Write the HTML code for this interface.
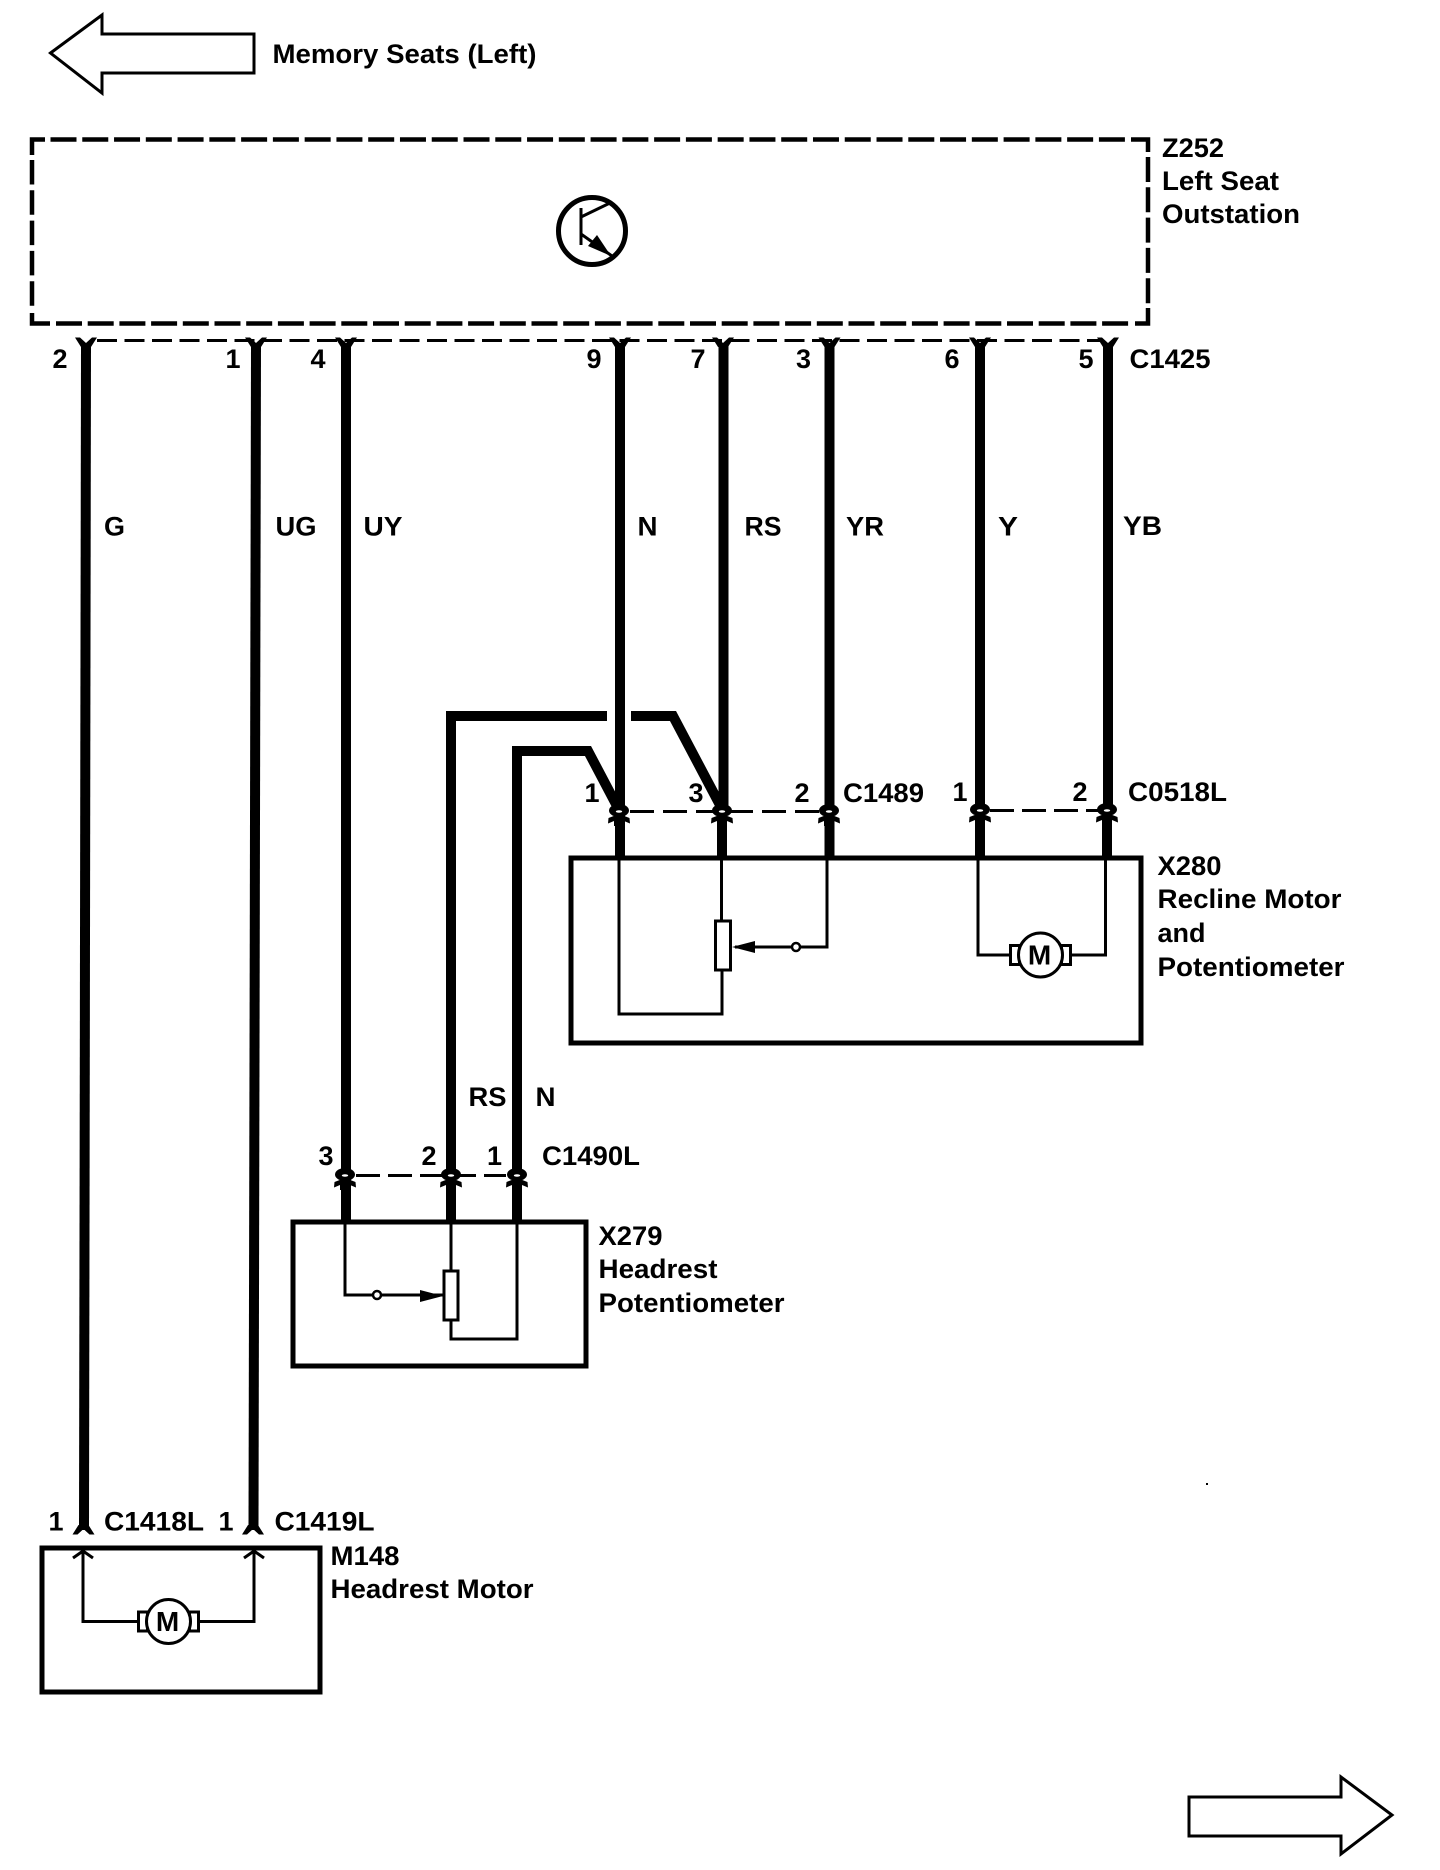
<!DOCTYPE html>
<html><head><meta charset="utf-8"><title>Wiring diagram</title>
<style>
html,body{margin:0;padding:0;background:#fff}
svg{display:block}
text{font-family:"Liberation Sans",sans-serif;font-weight:bold;font-size:27px;fill:#000}
.n{text-anchor:middle}
.w{fill:none;stroke:#000;stroke-width:10;stroke-linejoin:miter}
.t{fill:none;stroke:#000;stroke-width:3}
.b{fill:none;stroke:#000;stroke-width:5}
.d{fill:none;stroke:#000;stroke-width:4.5}
.c{fill:none;stroke:#000;stroke-width:3}
</style></head><body>
<svg width="1440" height="1870" viewBox="0 0 1440 1870" xmlns="http://www.w3.org/2000/svg">
<defs>
<g id="conn">
<ellipse cx="0" cy="-0.5" rx="10" ry="6.5" fill="#000"/>
<ellipse cx="0" cy="0.5" rx="3.2" ry="1.3" fill="#fff"/>
<path d="M-11 12.5 L-10.5 7 L-4 4.5 L4 4.5 L10.5 7 L11 12.5 L5 10 L5 15 L-5 15 L-5 10 Z" fill="#000"/>
</g>
<g id="fork"><path d="M-11 -3.5 L-6 -3.5 L0 2 L6 -3.5 L11 -3.5 L5 6 L-5 6 Z" fill="#000"/></g>
<g id="motor">
<rect x="-30" y="-9.5" width="9" height="19" fill="#fff" stroke="#000" stroke-width="3"/>
<rect x="21" y="-9.5" width="9" height="19" fill="#fff" stroke="#000" stroke-width="3"/>
<circle cx="0" cy="0" r="22" fill="#fff" stroke="#000" stroke-width="3"/>
<text x="-1" y="9.5" class="n" style="font-size:28px">M</text>
</g>
</defs>

<!-- top-left arrow -->
<path d="M50.5 53 L102 15 V34 H254 V73 H102 V93 Z" fill="#fff" stroke="#000" stroke-width="3" stroke-linejoin="miter"/>
<text x="272.5" y="63" textLength="264" lengthAdjust="spacingAndGlyphs">Memory Seats (Left)</text>

<!-- dashed Z252 box -->
<path class="d" d="M32 155 V139.5 H45"/>
<path class="d" stroke-dasharray="26 5.77" d="M50.5 139.5 H1125"/>
<path class="d" d="M1131 139.5 H1148 V152"/>
<path class="d" stroke-dasharray="24.5 5.8" d="M32 160 V308"/>
<path class="d" d="M32 313 V323.5 H50"/>
<path class="d" stroke-dasharray="26 5.7" d="M56 323.5 H1130"/>
<path class="d" d="M1135 323.5 H1148 V308"/>
<path class="d" stroke-dasharray="25 5.3" d="M1148 157 V304"/>

<!-- transistor -->
<circle cx="592" cy="231" r="33.5" fill="none" stroke="#000" stroke-width="5"/>
<path d="M581 208 V245 M581 217 L612 202 M581 234 L612 256" fill="none" stroke="#000" stroke-width="3"/>
<path d="M611 256 L588 246 L597 235 Z" fill="#000"/>
<text x="1162" y="157" textLength="62" lengthAdjust="spacingAndGlyphs">Z252</text>
<text x="1162" y="190" textLength="117" lengthAdjust="spacingAndGlyphs">Left Seat</text>
<text x="1162" y="223" textLength="138" lengthAdjust="spacingAndGlyphs">Outstation</text>

<!-- C1425 connector -->
<path class="c" stroke-dasharray="20 7.5" d="M97 340.5 H1100"/>
<use href="#fork" x="86" y="341"/><use href="#fork" x="256" y="341"/><use href="#fork" x="346" y="341"/>
<use href="#fork" x="620" y="341"/><use href="#fork" x="723" y="341"/><use href="#fork" x="829.5" y="341"/>
<use href="#fork" x="980" y="341"/><use href="#fork" x="1108" y="341"/>
<text class="n" x="60" y="368">2</text><text class="n" x="233" y="368">1</text><text class="n" x="318" y="368">4</text>
<text class="n" x="594" y="368">9</text><text class="n" x="698" y="368">7</text><text class="n" x="803.5" y="368">3</text>
<text class="n" x="952" y="368">6</text><text class="n" x="1086" y="368">5</text>
<text x="1129.5" y="368" textLength="81" lengthAdjust="spacingAndGlyphs">C1425</text>

<!-- main wires -->
<path class="w" d="M86 345 L84 1530"/>
<path class="w" d="M256 345 L253.5 1530"/>
<path class="w" d="M346 345 V1222"/>
<path class="w" d="M620 345 V859"/>
<path class="w" d="M723.5 345 V806 M722 815 V859"/>
<path class="w" d="M829.5 345 V859"/>
<path class="w" d="M980 345 V859"/>
<path class="w" d="M1108 345 V806 M1107 815 V859"/>
<path class="w" d="M451 1222 V716 H607"/>
<path class="w" d="M631 716 H673 L720 805"/>
<path class="w" d="M517 1222 V751 H588 L617 806"/>

<!-- wire labels -->
<text x="104" y="535.5" textLength="21" lengthAdjust="spacingAndGlyphs">G</text>
<text x="275.5" y="535.5" textLength="41" lengthAdjust="spacingAndGlyphs">UG</text>
<text x="363.5" y="535.5" textLength="39" lengthAdjust="spacingAndGlyphs">UY</text>
<text x="637.5" y="535.5" textLength="20" lengthAdjust="spacingAndGlyphs">N</text>
<text x="744.5" y="535.5" textLength="37" lengthAdjust="spacingAndGlyphs">RS</text>
<text x="846" y="535.5" textLength="38" lengthAdjust="spacingAndGlyphs">YR</text>
<text x="998" y="535.5" textLength="20" lengthAdjust="spacingAndGlyphs">Y</text>
<text x="1123" y="535" textLength="39" lengthAdjust="spacingAndGlyphs">YB</text>

<!-- C1489 / C0518L -->
<path class="c" stroke-dasharray="24 9" d="M630 811.5 H820"/>
<path class="c" stroke-dasharray="24 8" d="M990 810.5 H1098"/>
<use href="#conn" x="619" y="811"/><use href="#conn" x="722" y="811"/><use href="#conn" x="829" y="811"/>
<use href="#conn" x="980" y="810"/><use href="#conn" x="1107" y="810"/>
<text class="n" x="592" y="802">1</text><text class="n" x="696" y="802">3</text><text class="n" x="802" y="802">2</text>
<text x="843" y="802" textLength="81" lengthAdjust="spacingAndGlyphs">C1489</text>
<text class="n" x="960" y="801">1</text><text class="n" x="1080" y="801">2</text>
<text x="1128" y="801" textLength="99" lengthAdjust="spacingAndGlyphs">C0518L</text>

<!-- X280 box -->
<rect x="571" y="858" width="570" height="185" class="b"/>
<path class="t" d="M619 860 V1014 H722 V970"/>
<path class="t" d="M721.5 860 V921"/>
<rect x="715.5" y="921" width="15" height="49" fill="#fff" stroke="#000" stroke-width="3"/>
<path class="t" d="M735 947 H827 V860"/>
<path d="M732 947 L755 941 V953 Z" fill="#000"/>
<circle cx="796" cy="947" r="4" fill="#fff" stroke="#000" stroke-width="2.5"/>
<path class="t" d="M978 860 V955 H1012 M1070 955 H1105.5 V860"/>
<use href="#motor" x="1040.5" y="955"/>
<text x="1157.5" y="875" textLength="64" lengthAdjust="spacingAndGlyphs">X280</text>
<text x="1157.5" y="908" textLength="184" lengthAdjust="spacingAndGlyphs">Recline Motor</text>
<text x="1157.5" y="942" textLength="48" lengthAdjust="spacingAndGlyphs">and</text>
<text x="1157.5" y="976" textLength="187" lengthAdjust="spacingAndGlyphs">Potentiometer</text>

<!-- C1490L -->
<text x="468.5" y="1106" textLength="38" lengthAdjust="spacingAndGlyphs">RS</text>
<text x="535.5" y="1106" textLength="20" lengthAdjust="spacingAndGlyphs">N</text>
<text class="n" x="326" y="1165">3</text><text class="n" x="429" y="1165">2</text><text class="n" x="494.5" y="1165">1</text>
<text x="542" y="1165" textLength="98" lengthAdjust="spacingAndGlyphs">C1490L</text>
<path class="c" stroke-dasharray="24 8" d="M356 1175.5 H506"/>
<use href="#conn" x="345" y="1175"/><use href="#conn" x="451" y="1175"/><use href="#conn" x="517" y="1175"/>

<!-- X279 box -->
<rect x="293" y="1222" width="293" height="144" class="b"/>
<path class="t" d="M345 1224 V1295 H444"/>
<path d="M443 1296 L420 1290 V1302 Z" fill="#000"/>
<circle cx="377" cy="1295" r="4" fill="#fff" stroke="#000" stroke-width="2.5"/>
<path class="t" d="M451 1224 V1270 M451 1319 V1339 H517 V1224"/>
<rect x="444" y="1271" width="14" height="49" fill="#fff" stroke="#000" stroke-width="3"/>
<text x="598.5" y="1245" textLength="64" lengthAdjust="spacingAndGlyphs">X279</text>
<text x="598.5" y="1278" textLength="119" lengthAdjust="spacingAndGlyphs">Headrest</text>
<text x="598.5" y="1312" textLength="186" lengthAdjust="spacingAndGlyphs">Potentiometer</text>

<!-- stray speck -->
<rect x="1206" y="1483" width="2" height="2" fill="#000"/>

<!-- M148 -->
<g transform="translate(83.5 1531) scale(1 -1)"><use href="#fork"/></g>
<g transform="translate(253 1531) scale(1 -1)"><use href="#fork"/></g>
<text class="n" x="56" y="1530.5">1</text>
<text x="104" y="1530.5" textLength="100" lengthAdjust="spacingAndGlyphs">C1418L</text>
<text class="n" x="226" y="1530.5">1</text>
<text x="274.5" y="1530.5" textLength="100" lengthAdjust="spacingAndGlyphs">C1419L</text>
<rect x="42" y="1548" width="278" height="144" class="b"/>
<path class="t" d="M83 1550 V1621.5 H140 M197 1621.5 H254 V1550"/>
<path d="M73 1558 L83 1551 L93 1558" fill="none" stroke="#000" stroke-width="3"/>
<path d="M244 1558 L254 1551 L264 1558" fill="none" stroke="#000" stroke-width="3"/>
<use href="#motor" x="168.5" y="1621.5"/>
<text x="330.5" y="1565" textLength="69" lengthAdjust="spacingAndGlyphs">M148</text>
<text x="330.5" y="1598" textLength="203" lengthAdjust="spacingAndGlyphs">Headrest Motor</text>

<!-- bottom-right arrow -->
<path d="M1189 1797 H1341 V1777 L1392 1815 L1341 1854 V1836 H1189 Z" fill="#fff" stroke="#000" stroke-width="3" stroke-linejoin="miter"/>
</svg>
</body></html>
